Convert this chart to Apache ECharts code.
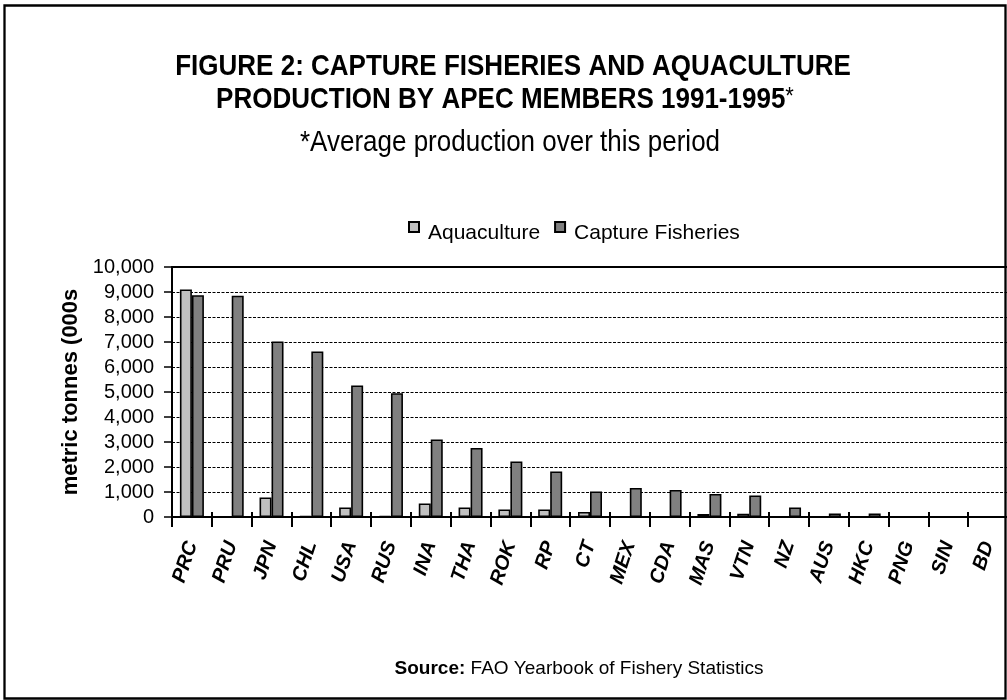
<!DOCTYPE html>
<html><head><meta charset="utf-8">
<script src="https://cdn.jsdelivr.net/npm/echarts/dist/echarts.min.js"></script>
<style>html,body{margin:0;padding:0;background:#fff}#c{width:1007px;height:700px}</style>
</head><body><div id="c"></div>
<script>
const categories = ['PRC','PRU','JPN','CHL','USA','RUS','INA','THA','ROK','RP','CT','MEX','CDA','MAS','VTN','NZ','AUS','HKC','PNG','SIN','BD'];
const aquaculture = [9100, 0, 780, 40, 380, 40, 540, 380, 300, 300, 200, 0, 0, 120, 130, 0, 0, 0, 0, 0, 0];
const captureFisheries = [8870, 8850, 7020, 6620, 5260, 4950, 3100, 2760, 2220, 1820, 1020, 1160, 1080, 920, 860, 380, 140, 140, 0, 0, 0];
const seriesNames = ['Aquaculture', 'Capture Fisheries'];
const yMin = 0, yMax = 10000, yStep = 1000;
const titleLines = ['FIGURE 2: CAPTURE FISHERIES AND AQUACULTURE', 'PRODUCTION BY APEC MEMBERS 1991-1995'];
const subtitle = '*Average production over this period';
const yAxisName = 'metric tonnes (000s';
const sourceLabel = 'Source:';
const sourceText = ' FAO Yearbook of Fishery Statistics';

const FONT = "'Liberation Sans', Arial, Helvetica, sans-serif";
const chart = echarts.init(document.getElementById('c'), null, {renderer: 'canvas'});
const hideAxis = {axisLine:{show:false}, axisTick:{show:false}, axisLabel:{show:false}, splitLine:{show:false}};
chart.setOption({
  animation: false,
  backgroundColor: '#fff',
  textStyle: {fontFamily: FONT, color: '#000'},
  grid: {left: 172, top: 267, bottom: 183, right: -1, containLabel: false, outerBoundsMode: 'none'},
  legend: {
    data: seriesNames, left: 403, top: 216,
    icon: 'path://M0,0L10,0L10,10L0,10ZM0,22', itemWidth: 10, itemHeight: 22, itemGap: 14,
    textStyle: {fontFamily: FONT, fontSize: 21, color: '#000', padding: [0, 0, 0, 4]}
  },
  xAxis: [
    {type: 'category', data: categories, position: 'bottom',
     axisLine: {show: true, lineStyle: {color: '#000', width: 2}},
     axisTick: {show: true, length: 10, interval: 0, lineStyle: {color: '#000', width: 2}},
     axisLabel: {interval: 0, rotate: 72, margin: 25, fontFamily: FONT, fontSize: 20, fontWeight: 'bold', fontStyle: 'italic', color: '#000'},
     splitLine: {show: false}},
    Object.assign({type: 'category', data: categories, position: 'bottom'}, hideAxis,
      {axisTick: {show: true, inside: true, length: 5, interval: 0, lineStyle: {color: '#000', width: 2}}}),
    Object.assign({type: 'category', data: categories, position: 'top'}, hideAxis,
      {axisLine: {show: true, lineStyle: {color: '#000', width: 2}}})
  ],
  yAxis: {
    type: 'value', min: yMin, max: yMax, interval: yStep,
    name: yAxisName, nameLocation: 'middle', nameGap: 89, nameRotate: 90,
    nameTextStyle: {fontFamily: FONT, fontSize: 22, fontWeight: 'bold', color: '#000'},
    axisLine: {show: true, lineStyle: {color: '#000', width: 2}},
    axisTick: {show: true, length: 8, lineStyle: {color: '#000', width: 1.5}},
    axisLabel: {margin: 18, fontFamily: FONT, fontSize: 20, color: '#000',
      formatter: v => v.toLocaleString('en-US')},
    splitLine: {show: true, lineStyle: {color: '#000', width: 1, type: [3, 1.5]}}
  },
  series: [
    {name: seriesNames[0], type: 'bar', data: aquaculture, barWidth: 12, barGap: '0%',
     itemStyle: {color: '#c0c0c0', borderColor: '#000', borderWidth: 1.6}},
    {name: seriesNames[1], type: 'bar', data: captureFisheries, barWidth: 12, barGap: '0%',
     itemStyle: {color: '#808080', borderColor: '#000', borderWidth: 1.6}}
  ],
  graphic: [
    {type: 'text', x: 513, y: 67, scaleY: 1.1, style: {text: titleLines[0], align: 'center', verticalAlign: 'middle',
      font: "bold 26px " + FONT, fill: '#000'}},
    {type: 'text', x: 505, y: 100, scaleY: 1.1, style: {
      text: '{b|' + titleLines[1] + '}{s|*}', align: 'center', verticalAlign: 'middle',
      rich: {b: {font: "bold 26px " + FONT, fill: '#000'}, s: {font: "22px " + FONT, fill: '#000', verticalAlign: 'top'}}}},
    {type: 'text', x: 510, y: 143, scaleY: 1.1, style: {text: subtitle, align: 'center', verticalAlign: 'middle',
      font: "26px " + FONT, fill: '#000'}},
    {type: 'text', x: 579, y: 669, style: {
      text: '{b|' + sourceLabel + '}{r|' + sourceText + '}', align: 'center', verticalAlign: 'middle',
      rich: {b: {font: "bold 19px " + FONT, fill: '#000'}, r: {font: "19px " + FONT, fill: '#000'}}}},
    {type: 'rect', shape: {x: 4.5, y: 5.5, width: 1001, height: 693}, z: 100,
      style: {fill: 'none', stroke: '#000', lineWidth: 2.3}}
  ]
});
</script></body></html>
